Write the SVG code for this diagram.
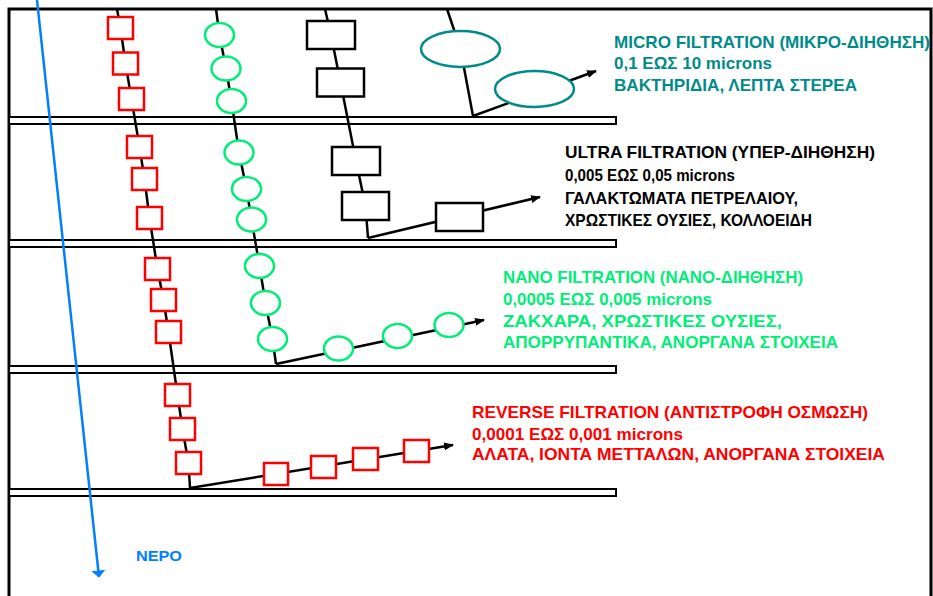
<svg xmlns="http://www.w3.org/2000/svg" width="933" height="596" viewBox="0 0 933 596">
<defs>
<marker id="ah" viewBox="0 0 10 8" refX="9" refY="4" markerWidth="10" markerHeight="8" orient="auto" markerUnits="userSpaceOnUse"><path d="M0,0 L10,4 L0,8 z" fill="#000"/></marker>
<marker id="ahb" viewBox="0 0 7 14" refX="6.5" refY="7" markerWidth="7" markerHeight="14" orient="auto" markerUnits="userSpaceOnUse"><path d="M0,0 L7,7 L0,14 z" fill="#0080FF"/></marker>
</defs>
<style>
.mem{fill:#fff;stroke:#000;stroke-width:2}
.ch{fill:none;stroke:#000;stroke-width:2.5;stroke-linejoin:round}
.rs{fill:#fff;stroke:#FF0000;stroke-width:2.5}
.gc{fill:#fff;stroke:#00EE77;stroke-width:2.5}
.bk{fill:#fff;stroke:#000;stroke-width:2.5}
.te{fill:#fff;stroke:#008B8B;stroke-width:2.5}
text{font-family:"Liberation Sans",Arial,sans-serif;font-weight:bold;font-size:17px}
.tm{fill:#008B8B}.tu{fill:#000}.tn{fill:#00EE77}.tr{fill:#FF0000}.tb{fill:#0080FF;font-size:15px}
</style>
<rect width="933" height="596" fill="#fff"/>
<g id="frame"><path d="M9,600 V9 H931 V600" fill="none" stroke="#000" stroke-width="3"/></g>
<g id="membranes">
<rect class="mem" x="9" y="117" width="607" height="7"/>
<rect class="mem" x="9" y="240" width="607" height="7"/>
<rect class="mem" x="9" y="366" width="607" height="7"/>
<rect class="mem" x="9" y="489" width="607" height="7"/>
</g>
<g id="connectors">
<polyline class="ch" points="117,9 120.5,28 125.5,63.5 131.5,99 139.5,147 144.5,179 149.5,218 157.5,269 163.5,300 168.5,332 177.5,395 182.5,429 188.5,463 190,488"/>
<polyline class="ch" marker-end="url(#ah)" points="190,488 453,445"/>
<polyline class="ch" points="216,9 219.5,35 226,68.5 231.5,101 239,152.5 246.5,189 251.5,219.5 259.5,266 265.5,303 272.5,339 276,364"/>
<polyline class="ch" marker-end="url(#ah)" points="276,364 484,320"/>
<polyline class="ch" points="325,9 331,35 340.5,82.5 356,161 365.5,206 368,238"/>
<polyline class="ch" marker-end="url(#ah)" points="368,238 540,197"/>
<polyline class="ch" points="447,9 460.5,49 473,116"/>
<polyline class="ch" marker-end="url(#ah)" points="473,116 596,71"/>
<line x1="37" y1="0" x2="99" y2="577" stroke="#0080FF" stroke-width="2.5" marker-end="url(#ahb)"/>
</g>
<g id="reverse-particles">
<rect class="rs" x="108" y="17" width="25" height="22"/>
<rect class="rs" x="113" y="52.5" width="25" height="22"/>
<rect class="rs" x="119" y="88" width="25" height="22"/>
<rect class="rs" x="127" y="136" width="25" height="22"/>
<rect class="rs" x="132" y="168" width="25" height="22"/>
<rect class="rs" x="137" y="207" width="25" height="22"/>
<rect class="rs" x="145" y="258" width="25" height="22"/>
<rect class="rs" x="151" y="289" width="25" height="22"/>
<rect class="rs" x="156" y="321" width="25" height="22"/>
<rect class="rs" x="165" y="384" width="25" height="22"/>
<rect class="rs" x="170" y="418" width="25" height="22"/>
<rect class="rs" x="176" y="452" width="25" height="22"/>
<rect class="rs" x="264" y="463" width="24" height="22"/>
<rect class="rs" x="311" y="456" width="25" height="22"/>
<rect class="rs" x="353" y="448" width="25" height="22"/>
<rect class="rs" x="404" y="440" width="25" height="22"/>
</g>
<g id="nano-particles">
<ellipse class="gc" cx="219.5" cy="35" rx="14.5" ry="12"/>
<ellipse class="gc" cx="226" cy="68.5" rx="14.5" ry="12"/>
<ellipse class="gc" cx="231.5" cy="101" rx="14.5" ry="12"/>
<ellipse class="gc" cx="239" cy="152.5" rx="14.5" ry="12"/>
<ellipse class="gc" cx="246.5" cy="189" rx="14.5" ry="12"/>
<ellipse class="gc" cx="251.5" cy="219.5" rx="14.5" ry="12"/>
<ellipse class="gc" cx="259.5" cy="266" rx="14.5" ry="12"/>
<ellipse class="gc" cx="265.5" cy="303" rx="14.5" ry="12"/>
<ellipse class="gc" cx="272.5" cy="339" rx="14.5" ry="12"/>
<ellipse class="gc" cx="338.5" cy="348.5" rx="14.5" ry="12"/>
<ellipse class="gc" cx="397.5" cy="336" rx="14.5" ry="12"/>
<ellipse class="gc" cx="449" cy="325" rx="14.5" ry="12"/>
</g>
<g id="ultra-particles">
<rect class="bk" x="307" y="21" width="48" height="28"/>
<rect class="bk" x="317" y="68.5" width="47" height="28"/>
<rect class="bk" x="332" y="147" width="48" height="28"/>
<rect class="bk" x="342" y="192" width="47" height="28"/>
<rect class="bk" x="436" y="203" width="47" height="28"/>
</g>
<g id="micro-particles">
<ellipse class="te" cx="460.5" cy="49" rx="39.5" ry="18"/>
<ellipse class="te" cx="534.5" cy="89" rx="39.5" ry="18"/>
</g>
<g id="label-micro">
<text class="tm" x="614" y="48" textLength="316" lengthAdjust="spacingAndGlyphs">MICRO FILTRATION (ΜΙΚΡΟ-ΔΙΗΘΗΣΗ)</text>
<text class="tm" x="614" y="69" textLength="158" lengthAdjust="spacingAndGlyphs">0,1 ΕΩΣ 10 microns</text>
<text class="tm" x="614" y="91" textLength="243" lengthAdjust="spacingAndGlyphs">ΒΑΚΤΗΡΙΔΙΑ, ΛΕΠΤΑ ΣΤΕΡΕΑ</text>
</g>
<g id="label-ultra">
<text class="tu" x="565" y="158" textLength="310" lengthAdjust="spacingAndGlyphs">ULTRA FILTRATION (ΥΠΕΡ-ΔΙΗΘΗΣΗ)</text>
<text class="tu" x="565" y="181" textLength="170" lengthAdjust="spacingAndGlyphs">0,005 ΕΩΣ 0,05 microns</text>
<text class="tu" x="565" y="204" textLength="233" lengthAdjust="spacingAndGlyphs">ΓΑΛΑΚΤΩΜΑΤΑ ΠΕΤΡΕΛΑΙΟΥ,</text>
<text class="tu" x="565" y="226" textLength="247" lengthAdjust="spacingAndGlyphs">ΧΡΩΣΤΙΚΕΣ ΟΥΣΙΕΣ, ΚΟΛΛΟΕΙΔΗ</text>
</g>
<g id="label-nano">
<text class="tn" x="503" y="283" textLength="300" lengthAdjust="spacingAndGlyphs">NANO FILTRATION (ΝΑΝΟ-ΔΙΗΘΗΣΗ)</text>
<text class="tn" x="503" y="305" textLength="209" lengthAdjust="spacingAndGlyphs">0,0005 ΕΩΣ 0,005 microns</text>
<text class="tn" x="503" y="327" textLength="279" lengthAdjust="spacingAndGlyphs">ΖΑΚΧΑΡΑ, ΧΡΩΣΤΙΚΕΣ ΟΥΣΙΕΣ,</text>
<text class="tn" x="503" y="348" textLength="335" lengthAdjust="spacingAndGlyphs">ΑΠΟΡΡΥΠΑΝΤΙΚΑ, ΑΝΟΡΓΑΝΑ ΣΤΟΙΧΕΙΑ</text>
</g>
<g id="label-reverse">
<text class="tr" x="472" y="418" textLength="396" lengthAdjust="spacingAndGlyphs">REVERSE FILTRATION (ΑΝΤΙΣΤΡΟΦΗ ΟΣΜΩΣΗ)</text>
<text class="tr" x="472" y="440" textLength="211" lengthAdjust="spacingAndGlyphs">0,0001 ΕΩΣ 0,001 microns</text>
<text class="tr" x="472" y="460" textLength="413" lengthAdjust="spacingAndGlyphs">ΑΛΑΤΑ, ΙΟΝΤΑ ΜΕΤΤΑΛΩΝ, ΑΝΟΡΓΑΝΑ ΣΤΟΙΧΕΙΑ</text>
</g>
<g id="label-water">
<text class="tb" x="136" y="561" textLength="46" lengthAdjust="spacingAndGlyphs">ΝΕΡΟ</text>
</g>
</svg>
